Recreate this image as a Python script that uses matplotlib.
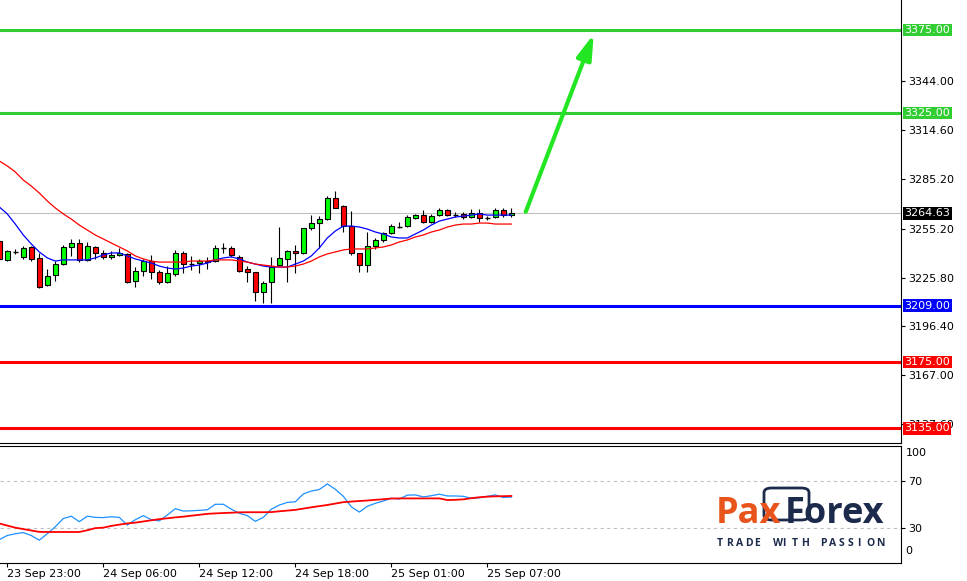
import matplotlib
matplotlib.use("Agg")
import matplotlib.pyplot as plt
from matplotlib.patches import FancyBboxPatch
import numpy as np

# 30 min bars
opens = [3247.9, 3236.5, 3241.3, 3238.3, 3244.3, 3237.7, 3221.4, 3227.4, 3234.0, 3244.3,
         3246.7, 3236.5, 3244.3, 3240.7, 3238.3, 3239.5, 3240.1, 3223.8, 3229.8, 3235.8,
         3229.2, 3223.2, 3228.0, 3240.7, 3234.2, 3234.6, 3235.8, 3235.8, 3243.7, 3243.7,
         3238.3, 3231.0, 3229.2, 3217.2, 3223.2, 3233.4, 3237.1, 3241.9, 3240.7, 3255.7,
         3258.7, 3261.1, 3273.8, 3269.0, 3256.9, 3240.7, 3233.4, 3244.9, 3248.5, 3252.7,
         3256.6, 3256.9, 3261.7, 3263.5, 3259.3, 3263.5, 3266.6, 3263.5, 3264.2, 3262.3,
         3264.8, 3261.7, 3262.3, 3266.6, 3263.5]
highs = [3249.1, 3242.5, 3243.1, 3244.9, 3244.9, 3240.7, 3231.0, 3235.8, 3245.5, 3249.1,
         3249.1, 3247.3, 3244.9, 3242.5, 3241.9, 3243.7, 3240.7, 3232.2, 3237.1, 3239.5,
         3230.4, 3233.0, 3242.5, 3241.9, 3238.9, 3237.1, 3238.3, 3245.5, 3246.7, 3244.9,
         3239.5, 3232.8, 3229.2, 3223.8, 3238.3, 3256.3, 3242.5, 3245.5, 3256.0, 3263.5,
         3262.9, 3275.0, 3278.0, 3269.6, 3266.0, 3240.7, 3253.3, 3249.7, 3253.3, 3258.1,
         3259.3, 3263.5, 3264.2, 3266.6, 3264.2, 3267.8, 3267.2, 3265.4, 3265.4, 3267.2,
         3267.2, 3262.9, 3267.8, 3267.8, 3267.8]
lows = [3235.8, 3235.8, 3240.1, 3237.1, 3235.8, 3219.6, 3220.8, 3223.8, 3233.4, 3238.9,
        3235.2, 3235.8, 3237.1, 3237.1, 3237.1, 3238.9, 3222.6, 3220.2, 3226.8, 3225.0,
        3222.0, 3222.6, 3226.8, 3228.6, 3230.4, 3228.6, 3231.0, 3235.2, 3240.7, 3238.3,
        3229.2, 3223.2, 3211.8, 3210.6, 3210.6, 3232.8, 3223.2, 3228.6, 3240.1, 3254.5,
        3243.7, 3260.5, 3267.8, 3253.3, 3239.5, 3229.2, 3229.2, 3243.1, 3247.3, 3252.1,
        3255.7, 3256.3, 3261.1, 3258.7, 3258.7, 3262.9, 3262.9, 3262.3, 3261.1, 3261.7,
        3259.3, 3260.5, 3261.7, 3262.3, 3262.3]
closes = [3237.1, 3241.9, 3241.3, 3243.7, 3237.1, 3220.2, 3226.8, 3234.0, 3244.3, 3246.7,
          3236.5, 3244.9, 3240.7, 3238.3, 3239.5, 3240.7, 3223.2, 3229.8, 3235.8, 3229.2,
          3223.2, 3228.6, 3240.7, 3234.0, 3234.2, 3235.8, 3235.2, 3243.7, 3243.7, 3239.5,
          3229.8, 3229.2, 3217.2, 3222.6, 3232.2, 3237.7, 3241.9, 3240.7, 3255.7, 3258.7,
          3261.1, 3273.8, 3267.8, 3256.9, 3240.7, 3233.4, 3244.9, 3248.5, 3252.7, 3256.9,
          3256.6, 3262.3, 3263.5, 3259.3, 3262.9, 3266.6, 3263.5, 3263.5, 3262.3, 3264.8,
          3261.7, 3261.7, 3266.6, 3263.5, 3264.6]

# moving averages (blue fast, red slow)
ma_fast = [3268.4, 3264.2, 3258.1, 3251.5, 3246.1, 3241.3, 3237.7, 3235.8, 3236.5, 3236.5,
           3236.5, 3236.5, 3237.7, 3239.5, 3240.7, 3240.7, 3238.9, 3237.1, 3235.8, 3234.6,
           3232.8, 3231.6, 3231.0, 3231.6, 3232.8, 3233.4, 3234.6, 3236.5, 3237.7, 3238.3,
           3237.1, 3235.2, 3234.0, 3232.8, 3232.2, 3232.2, 3232.2, 3234.0, 3235.8, 3238.9,
           3243.7, 3249.7, 3253.9, 3256.9, 3256.9, 3256.3, 3255.1, 3253.3, 3252.1, 3250.3,
           3249.7, 3249.7, 3252.1, 3254.5, 3257.5, 3259.9, 3261.1, 3262.3, 3262.9, 3263.5,
           3264.2, 3263.5, 3263.5, 3263.5, 3263.5]
ma_slow = [3296.1, 3293.1, 3289.5, 3284.6, 3281.0, 3276.8, 3272.0, 3267.8, 3264.2, 3261.1,
           3257.5, 3254.5, 3251.5, 3249.1, 3246.7, 3244.3, 3241.9, 3238.9, 3237.1, 3235.8,
           3235.2, 3235.2, 3235.2, 3235.2, 3235.8, 3235.8, 3235.8, 3236.5, 3236.5, 3236.5,
           3235.8, 3235.2, 3234.0, 3233.4, 3232.8, 3232.2, 3232.2, 3232.8, 3234.0, 3235.8,
           3238.3, 3240.1, 3241.3, 3242.5, 3243.1, 3243.1, 3243.1, 3243.7, 3244.3, 3245.5,
           3247.3, 3248.5, 3250.3, 3251.5, 3253.3, 3254.5, 3256.3, 3257.5, 3258.1, 3258.1,
           3258.7, 3258.7, 3258.1, 3258.1, 3258.1]

# oscillator in the lower window
osc_fast = [20, 23.5, 25, 26, 23.5, 19.5, 25, 31, 38, 40,
            35.3, 40, 39, 38.8, 39.5, 39, 32.4, 37, 40.5, 37,
            36, 41, 46.4, 44.4, 44.6, 45, 45.5, 50.2, 50.2, 46,
            42.5, 40.5, 35.6, 39, 46, 49.5, 51.8, 52.3, 59, 61.5,
            62.8, 67.6, 63, 57, 48, 43.5, 48.5, 51, 53, 55.3,
            54.7, 58, 58.2, 56.5, 57.5, 58.8, 57.3, 57.3, 57, 55.3,
            55.7, 57, 58.2, 56, 56.4]
osc_slow = [33.8, 32, 30.2, 29, 27.8, 26.6, 26.5, 26.5, 26.5, 26.5,
            26.5, 28, 29.8, 30.2, 31.7, 32.8, 33.8, 34.5, 35.5, 36.5,
            37.5, 38.2, 39.0, 39.6, 40.4, 41.2, 42.0, 42.4, 42.7, 43.0,
            43.3, 43.4, 43.4, 43.4, 43.5, 44.2, 44.8, 45.4, 46.5, 47.6,
            48.6, 49.6, 50.8, 52.0, 52.5, 53.0, 53.4, 54.0, 54.5, 55.1,
            55.2, 55.2, 55.2, 55.2, 55.2, 55.2, 53.8, 54.0, 54.4, 55.4,
            56.2, 56.7, 57.0, 57.1, 57.3]

levels = [3375.00, 3325.00, 3209.00, 3175.00, 3135.00]
level_colors = ['#32CD32', '#32CD32', '#0000FF', '#FF0000', '#FF0000']
last_price = 3264.63
price_ticks = [3344.00, 3314.60, 3285.20, 3255.20, 3225.80, 3196.40, 3167.00, 3137.60]
time_ticks = [2, 14, 26, 38, 50, 62]
time_labels = ["23 Sep 23:00", "24 Sep 06:00", "24 Sep 12:00",
               "24 Sep 18:00", "25 Sep 01:00", "25 Sep 07:00"]
arrow_start = (66.8, 3265.5)
arrow_end = (75.3, 3372.6)

W, H = 967, 581
fig = plt.figure(figsize=(W / 100, H / 100), dpi=100)
fig.patch.set_facecolor('white')

xlim = (1.09, 113.7)
ax = fig.add_axes([0, (H - 443) / H, 901 / W, 443 / H])
ax2 = fig.add_axes([0, (H - 563) / H, 901 / W, 117 / H])

# ---- main window
x = np.arange(1, len(opens) + 1)
o = np.array(opens)
c = np.array(closes)
up = c > o
dn = c < o
flat = c == o
bw = 0.62

for lv, col in zip(levels, level_colors):
    ax.axhline(lv, color=col, lw=2.2, zorder=2)
ax.axhline(last_price, color='#C0C0C0', lw=0.8, zorder=1)

ax.vlines(x, lows, highs, color='black', lw=0.8, zorder=3)
ax.bar(x[up], (c - o)[up], bw, bottom=o[up], color='#00FF00', edgecolor='black', lw=0.8, zorder=4)
ax.bar(x[dn], (o - c)[dn], bw, bottom=c[dn], color='#FF0000', edgecolor='black', lw=0.8, zorder=4)
ax.hlines(o[flat], x[flat] - bw / 2, x[flat] + bw / 2, color='black', lw=1.0, zorder=4)

ax.plot(x, ma_fast, color='#0000FF', lw=0.9, zorder=5)
ax.plot(x, ma_slow, color='#FF0000', lw=0.9, zorder=5)

ax.annotate('', xy=arrow_end, xytext=arrow_start,
            arrowprops=dict(arrowstyle='-|>,head_width=0.3,head_length=1.0', color='#22E622',
                            lw=3, mutation_scale=15, shrinkA=0, shrinkB=0), zorder=6)

ax.set_xlim(xlim)
ax.set_ylim(3126.2, 3393.07)
ax.set_xticks([])
ax.yaxis.tick_right()
ax.set_yticks(price_ticks)
ax.set_yticklabels([f'{v:.2f}' for v in price_ticks])
ax.tick_params(axis='y', direction='out', length=3, width=0.8, pad=2, labelsize=8, colors='black')
for s in ['left', 'top']:
    ax.spines[s].set_visible(False)
for s in ['right', 'bottom']:
    ax.spines[s].set_linewidth(0.8)

tag_colors = level_colors + ['black']
for lv, col in zip(levels + [last_price], tag_colors):
    ax.annotate(f'{lv:.2f}', xy=(1, lv), xycoords=('axes fraction', 'data'),
                xytext=(2.5, 0), textcoords='offset points', ha='left', va='center',
                color='white', fontsize=8,
                bbox=dict(boxstyle='square,pad=0.12', fc=col, ec='none'),
                annotation_clip=False, zorder=10)

# ---- oscillator window
ax2.axhline(70, color='#C0C0C0', lw=0.8, ls=(0, (3, 3)))
ax2.axhline(30, color='#C0C0C0', lw=0.8, ls=(0, (3, 3)))
ax2.plot(x, osc_fast, color='#1E90FF', lw=0.9, zorder=3)
ax2.plot(x, osc_slow, color='#FF0000', lw=1.3, zorder=4)
ax2.set_xlim(xlim)
ax2.set_ylim(0, 100)
ax2.yaxis.tick_right()
ax2.set_yticks([70, 30])
ax2.set_yticklabels(['70', '30'])
ax2.tick_params(axis='y', direction='out', length=3, width=0.8, pad=2, labelsize=8)
ax2.text(1.005, 94, '100', transform=ax2.get_yaxis_transform(), fontsize=8, va='center', ha='left')
ax2.text(1.005, 10, '0', transform=ax2.get_yaxis_transform(), fontsize=8, va='center', ha='left')
ax2.set_xticks(time_ticks)
ax2.set_xticklabels(time_labels, ha='left')
ax2.tick_params(axis='x', direction='out', length=3, width=0.8, pad=1, labelsize=8)
ax2.spines['left'].set_visible(False)
for s in ['right', 'bottom', 'top']:
    ax2.spines[s].set_linewidth(0.8)

# ---- logo
orange = '#E8541C'
navy = '#1C2B4B'
fx = lambda px: px / W
fy = lambda py: 1 - py / H
box = FancyBboxPatch((fx(764), fy(520)), fx(809) - fx(764), fy(488) - fy(520),
                     boxstyle='round,pad=0,rounding_size=0.008', transform=fig.transFigure,
                     fill=False, ec=navy, lw=2.0, zorder=20)
fig.patches.append(box)
fig.text(fx(716), fy(523), 'Pax', fontsize=26, fontweight='bold', color=orange,
         family='Open Sans', ha='left', va='baseline', zorder=21)
fig.text(fx(884), fy(523), 'Forex', fontsize=26, fontweight='bold', color=navy,
         family='Open Sans', ha='right', va='baseline', zorder=21)
tag = 'TRADE WITH PASSION'
for i, ch in enumerate(tag):
    fig.text(fx(717 + i * 9.35), fy(546), ch, fontsize=7.5, fontweight='bold', color=navy,
             family='Open Sans', ha='left', va='baseline', zorder=21)

fig.savefig('out.png', dpi=100)
